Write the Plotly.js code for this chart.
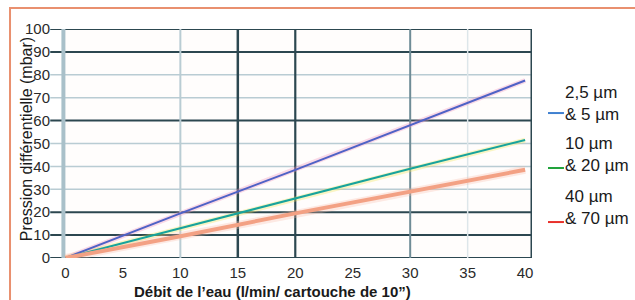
<!DOCTYPE html>
<html>
<head>
<meta charset="utf-8">
<script src="https://cdn.plot.ly/plotly-3.0.1.min.js"></script>
<style>
html,body{margin:0;padding:0;background:#fff;overflow:hidden;}
#chart{width:635px;height:300px;}
</style>
</head>
<body>
<div id="chart"></div>
<script>
// Data
const flow = [0, 10, 20, 30, 40];                 // Débit de l'eau (l/min)
const seriesNames = ["2,5 µm<br>& 5 µm", "10 µm<br>& 20 µm", "40 µm<br>& 70 µm"];
const blueValues  = [0, 19.5, 38.5, 58, 77.5];    // 2,5 µm & 5 µm
const greenValues = [0, 13, 26, 39, 51.5];        // 10 µm & 20 µm
const redValues   = [0, 9.5, 19.5, 29, 38.5];     // 40 µm & 70 µm
const xTicks = [0, 5, 10, 15, 20, 25, 30, 35, 40];
const yTicks = [0, 10, 20, 30, 40, 50, 60, 70, 80, 90, 100];
const xTitle = "Débit de l’eau (l/min/ cartouche de 10”)";
const yTitle = "Pression différentielle (mbar)";

const lineColors = ["#4f62c6", "#18a39c", "#f3a184"];
const legendColors = ["#3f80d0", "#22a33c", "#e8302a"];
const haloColors = ["rgba(240,150,190,0.35)", "rgba(240,230,90,0.35)", "rgba(250,190,170,0.3)"];
const seriesValues = [blueValues, greenValues, redValues];

const traces = [];
seriesValues.forEach((v, i) => {
  traces.push({x: flow, y: v, type: 'scatter', mode: 'lines', hoverinfo: 'skip',
    line: {color: haloColors[i], width: i === 2 ? 8 : 5}, showlegend: false});
});
seriesValues.forEach((v, i) => {
  traces.push({x: flow, y: v, type: 'scatter', mode: 'lines', name: seriesNames[i],
    line: {color: lineColors[i], width: i === 2 ? 4 : 2}, showlegend: false});
});

const dark = "#2c4750", mid = "#6f8c96", light = "#b9ccd3";
const hLines = {0: dark, 10: dark, 20: dark, 30: light, 40: light, 50: light, 60: dark, 70: light, 80: light, 90: dark, 100: dark};
const vLines = [[10, light, 2], [15, dark, 2.5], [20, dark, 2.2], [30, mid, 2], [35, "#dde6ea", 1.5], [40.6, dark, 3]];

const shapes = [];
// orange frame: left and top edges of a panel border
shapes.push({type: 'path', xref: 'paper', yref: 'paper',
  path: 'M -0.1106,-0.2 L -0.1106,1.0917 L 1.25,1.0917',
  line: {color: "#e9906f", width: 2}});
Object.keys(hLines).forEach(k => {
  shapes.push({type: 'line', xref: 'paper', yref: 'y', x0: -0.025, x1: 1, y0: +k, y1: +k,
    line: {color: hLines[k], width: hLines[k] === dark ? 2 : 1.5}, layer: 'below'});
});
shapes.push({type: 'line', xref: 'paper', yref: 'paper', x0: 0.003, x1: 0.003, y0: 0, y1: 1,
  line: {color: "#a9c0c9", width: 4}, layer: 'below'});
vLines.forEach(([xv, c, w]) => {
  shapes.push({type: 'line', xref: 'x', yref: 'paper', x0: xv, x1: xv, y0: 0, y1: 1,
    line: {color: c, width: w}, layer: 'below'});
});

// custom legend
const legLineY = [0.633, 0.393, 0.157];
const legTextY = [0.675, 0.453, 0.22];
const annotations = [];
seriesNames.forEach((n, i) => {
  shapes.push({type: 'line', xref: 'paper', yref: 'paper', x0: 1.034, x1: 1.068, y0: legLineY[i], y1: legLineY[i],
    line: {color: legendColors[i], width: 2}});
  annotations.push({xref: 'paper', yref: 'paper', x: 1.066, y: legTextY[i], xanchor: 'left', yanchor: 'middle',
    text: n, showarrow: false, align: 'left',
    font: {family: 'Liberation Sans, Arial, sans-serif', size: 17, color: '#1a1a1a'}});
});
annotations.push({xref: 'paper', yref: 'paper', x: 0.447, y: -0.148, xanchor: 'center', yanchor: 'middle',
  text: '<b>' + xTitle + '</b>', showarrow: false,
  font: {family: 'Liberation Sans Narrow, Arial Narrow, sans-serif', size: 15, color: '#1a1a1a'}});
annotations.push({xref: 'paper', yref: 'paper', x: -0.074, y: 0.52, xanchor: 'center', yanchor: 'middle',
  textangle: -90, text: yTitle, showarrow: false,
  font: {family: 'Liberation Sans Narrow, Arial Narrow, sans-serif', size: 16, color: '#1a1a1a'}});

const layout = {
  width: 635, height: 300,
  margin: {l: 62, r: 103, t: 29, b: 42, pad: 0},
  paper_bgcolor: '#ffffff', plot_bgcolor: '#fffdfc',
  showlegend: false,
  xaxis: {range: [-0.3, 40.6], tickvals: xTicks, ticktext: xTicks.map(String), showgrid: false, zeroline: false,
    showline: false, ticks: '', ticklabelstandoff: 4,
    tickfont: {family: 'Liberation Sans Narrow, Arial Narrow, sans-serif', size: 15, color: '#2a2a2a'}},
  yaxis: {range: [0, 100], tickvals: yTicks, ticktext: yTicks.map(String), showgrid: false, zeroline: false,
    showline: false, ticks: '', ticklabelstandoff: 11,
    tickfont: {family: 'Liberation Sans Narrow, Arial Narrow, sans-serif', size: 15, color: '#2a2a2a'}},
  shapes: shapes,
  annotations: annotations
};

Plotly.newPlot('chart', traces, layout, {staticPlot: true, displayModeBar: false});
</script>
</body>
</html>
